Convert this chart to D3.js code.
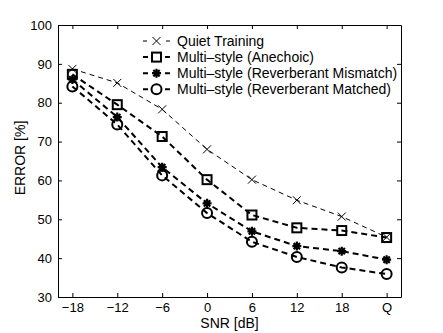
<!DOCTYPE html>
<html>
<head>
<meta charset="utf-8">
<script src="https://cdn.jsdelivr.net/npm/d3@7"></script>
<style>
  body { margin: 0; background: #fff; }
  text { font-family: "Liberation Sans", Arial, sans-serif; }
</style>
</head>
<body>
<div id="chart"></div>
<script>
var snrLabels = ["\u221218", "\u221212", "\u22126", "0", "6", "12", "18", "Q"];
var quiet = [88.7, 85.1, 78.3, 68.0, 60.2, 54.9, 50.7, 45.4];
var anechoic = [87.3, 79.5, 71.3, 60.2, 51.1, 47.8, 47.1, 45.3];
var mismatch = [86.0, 76.3, 63.4, 54.1, 46.9, 43.1, 41.8, 39.6];
var matched = [84.2, 74.4, 61.3, 51.6, 44.2, 40.3, 37.6, 35.9];
var yTicks = [30, 40, 50, 60, 70, 80, 90, 100];

var series = [
    { name: "Quiet Training", values: quiet, marker: "x", width: 1, dash: "5,4" },
    { name: "Multi\u2013style (Anechoic)", values: anechoic, marker: "square", width: 2, dash: "6,4" },
    { name: "Multi\u2013style (Reverberant Mismatch)", values: mismatch, marker: "star", width: 2, dash: "6,4" },
    { name: "Multi\u2013style (Reverberant Matched)", values: matched, marker: "circle", width: 2, dash: "6,4" }
];

var margin = { top: 25, right: 42, bottom: 36, left: 58 },
    width = 443 - margin.left - margin.right,
    height = 333 - margin.top - margin.bottom;

var svg = d3.select("#chart")
    .append("svg")
    .attr("width", 443)
    .attr("height", 333)
    .append("g")
    .attr("transform", "translate(" + margin.left + "," + margin.top + ")");

var x = d3.scaleLinear()
    .domain([-0.32, snrLabels.length - 1 + 0.32])
    .range([0, width]);

var y = d3.scaleLinear()
    .domain([30, 100])
    .range([height, 0]);

var idx = d3.range(snrLabels.length);

// axes with inward ticks on all four sides
var xb = svg.append("g")
    .attr("transform", "translate(0," + height + ")")
    .call(d3.axisBottom(x).tickValues(idx).tickFormat(i => snrLabels[i]).tickSizeInner(-4).tickSizeOuter(0).tickPadding(6));
var xt = svg.append("g")
    .call(d3.axisTop(x).tickValues(idx).tickFormat("").tickSizeInner(-4).tickSizeOuter(0));
var yl = svg.append("g")
    .call(d3.axisLeft(y).tickValues(yTicks).tickSizeInner(-4).tickSizeOuter(0).tickPadding(6));
var yr = svg.append("g")
    .attr("transform", "translate(" + width + ",0)")
    .call(d3.axisRight(y).tickValues(yTicks).tickFormat("").tickSizeInner(-4).tickSizeOuter(0));

[xb, xt, yl, yr].forEach(function (g) {
    g.select(".domain").attr("stroke", "#000").attr("stroke-width", 1);
    g.selectAll(".tick line").attr("stroke", "#000");
    g.selectAll("text").attr("font-size", 13).attr("fill", "#000")
        .style("font-family", "'Liberation Sans', Arial, sans-serif");
});

svg.append("text")
    .attr("x", width / 2)
    .attr("y", height + 31)
    .attr("text-anchor", "middle")
    .attr("font-size", 14)
    .text("SNR [dB]");

svg.append("text")
    .attr("transform", "translate(-33," + (height / 2 - 3) + ") rotate(-90)")
    .attr("text-anchor", "middle")
    .attr("font-size", 14)
    .text("ERROR [%]");

var starPath = (function () {
    var p = "";
    for (var k = 0; k < 4; k++) {
        var a = k * Math.PI / 4;
        var dx = 4.5 * Math.cos(a), dy = 4.5 * Math.sin(a);
        p += "M" + (-dx) + "," + (-dy) + "L" + dx + "," + dy;
    }
    return p;
})();

function drawMarker(g, type) {
    if (type === "x") {
        g.append("path").attr("d", "M-4,-4L4,4M-4,4L4,-4")
            .attr("stroke", "#000").attr("stroke-width", 1).attr("fill", "none");
    } else if (type === "square") {
        g.append("rect").attr("x", -4.5).attr("y", -4.5).attr("width", 9).attr("height", 9)
            .attr("stroke", "#000").attr("stroke-width", 2).attr("fill", "none");
    } else if (type === "star") {
        g.append("path").attr("d", starPath)
            .attr("stroke", "#000").attr("stroke-width", 2.2).attr("fill", "none");
    } else {
        g.append("circle").attr("r", 5)
            .attr("stroke", "#000").attr("stroke-width", 2).attr("fill", "none");
    }
}

var line = d3.line()
    .x((d, i) => x(i))
    .y(d => y(d));

series.forEach(function (s) {
    svg.append("path")
        .datum(s.values)
        .attr("d", line)
        .attr("fill", "none")
        .attr("stroke", "#000")
        .attr("stroke-width", s.width)
        .attr("stroke-dasharray", s.dash);

    svg.selectAll(null)
        .data(s.values)
        .join("g")
        .attr("transform", (d, i) => "translate(" + x(i) + "," + y(d) + ")")
        .each(function () { drawMarker(d3.select(this), s.marker); });
});

// legend
var legend = svg.append("g")
    .attr("transform", "translate(85,16)");

series.forEach(function (s, i) {
    var row = legend.append("g").attr("transform", "translate(0," + (i * 16.1) + ")");
    row.append("line")
        .attr("x1", 0).attr("x2", 27)
        .attr("stroke", "#000")
        .attr("stroke-width", s.width)
        .attr("stroke-dasharray", s.width === 1 ? "4,19,4" : "5,17,5");
    var m = row.append("g").attr("transform", "translate(13.5,0)");
    drawMarker(m, s.marker);
    row.append("text")
        .attr("x", 34)
        .attr("y", 5)
        .attr("font-size", 14)
        .text(s.name);
});
</script>
</body>
</html>
